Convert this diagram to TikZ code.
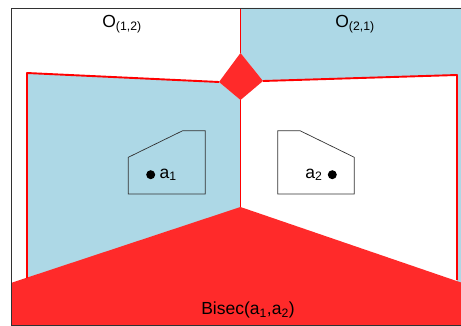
\documentclass[tikz,border=0pt]{standalone}
\usepackage{fontspec}
\setmainfont{Liberation Sans}
\usepackage{xcolor}
\usetikzlibrary{positioning}
\definecolor{regblue}{HTML}{ADD8E6}
\definecolor{bisred}{RGB}{255,42,42}
\definecolor{frame}{RGB}{50,50,50}

\begin{document}
\begin{tikzpicture}[
  x=1pt, y=-1pt,
  font=\fontsize{17.5}{20}\selectfont,
  region/.style={fill=regblue, draw=none},
  bisec/.style={fill=bisred, draw=none},
  border/.style={draw=red, line width=1.9pt, line join=round},
  obst/.style={draw=frame, line width=0.7pt},
  site/.style={circle, fill=black, inner sep=0pt, minimum size=9pt},
  lbl/.style={inner sep=1pt}
]
\clip (0,0) rectangle (461,326);
% corner points of the regions
\coordinate (dt) at (240.5,53);
\coordinate (dl) at (219,82);
\coordinate (db) at (240.5,100);
\coordinate (dr) at (263,81);
\coordinate (apex) at (240.5,207);
\coordinate (lt) at (27,73);
\coordinate (lb) at (27,278);
\coordinate (rt) at (457,75);
\coordinate (rb) at (457,280);

% blue regions
\fill[region] (lt) -- (dl) -- (db) -- (apex) -- (27,290) -- cycle;
\fill[region] (240.5,8) -- (dt) -- (dr) -- (rt) -- (457,300) -- (480,300) -- (480,8) -- cycle;

% bisector
\fill[bisec] (11.7,282.7) -- (apex) -- (480,289) -- (480,330) -- (11.7,330) -- cycle;
\fill[bisec] (dt) -- (dl) -- (db) -- (dr) -- cycle;

% borders
\draw[border] (240.5,8) -- (dt);
\draw[border] (dl) -- (lt) -- (lb);
\draw[border] (dr) -- (rt) -- (rb);
\draw[border] (db) -- (apex);

% obstacles and sites
\draw[obst] (128.3,157.3) -- (182.7,130.7) -- (205.3,130.7) -- (205.3,194) -- (128.3,194) -- cycle;
\draw[obst] (277.7,130.7) -- (300,130.7) -- (354.3,157.3) -- (354.3,194) -- (277.7,194) -- cycle;
\node[site] (s1) at (150.7,174.7) {};
\node[site] (s2) at (332.3,174.7) {};
\node[lbl, right=3pt of s1] (a1) {a\textsubscript{1}};
\node[lbl, left=4pt of s2] (a2) {a\textsubscript{2}};

% labels
\node[lbl] (o12) at (122,24) {O\textsubscript{(1,2)}};
\node[lbl] (o21) at (355,24) {O\textsubscript{(2,1)}};
\node[lbl] (bis) at (248,310) {Bisec(a\textsubscript{1},a\textsubscript{2})};

% frame
\draw[frame, line width=1pt] (11.7,8.3) rectangle (500,325);
\end{tikzpicture}
\end{document}
